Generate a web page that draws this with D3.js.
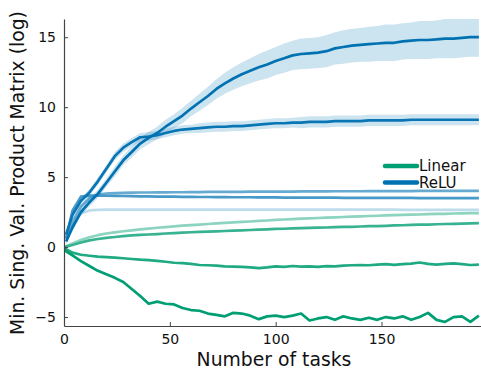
<!DOCTYPE html>
<html>
<head>
<meta charset="utf-8">
<script src="https://cdn.jsdelivr.net/npm/d3@7"></script>
<style>
  body { margin: 0; background: #fff; }
  text { font-family: "DejaVu Sans", sans-serif; fill: #111; }
</style>
</head>
<body>
<svg id="chart" width="481" height="372"></svg>
<script>
// number of tasks seen (x)
const tasks = [1, 4, 8, 12, 16, 20, 24, 28, 32, 36,
               40, 44, 48, 52, 56, 60, 64, 68, 72, 76,
               80, 84, 88, 92, 96, 100, 104, 108, 112, 116,
               120, 124, 128, 132, 136, 140, 144, 148, 152, 156,
               160, 164, 168, 172, 176, 180, 184, 188, 192, 196];

// ReLU runs (darkest first)
const reluA = [0.4, 1.4, 2.5, 3.2, 3.8, 4.6, 5.4, 6.2, 6.8, 7.4,
               7.8, 8.15, 8.6, 9.0, 9.4, 9.9, 10.35, 10.8, 11.3, 11.7,
               12.05, 12.35, 12.6, 12.85, 13.05, 13.3, 13.5, 13.7, 13.8, 13.85,
               13.9, 14.0, 14.2, 14.3, 14.4, 14.45, 14.5, 14.55, 14.6, 14.6,
               14.7, 14.75, 14.8, 14.8, 14.85, 14.9, 14.9, 14.95, 15.0, 15.0];
const reluAsd = [0.25, 0.25, 0.25, 0.3, 0.3, 0.3, 0.35, 0.35, 0.4, 0.4,
                 0.45, 0.45, 0.5, 0.5, 0.55, 0.55, 0.6, 0.65, 0.7, 0.75,
                 0.8, 0.85, 0.9, 0.95, 1.0, 1.0, 1.05, 1.05, 1.1, 1.1,
                 1.1, 1.15, 1.15, 1.2, 1.2, 1.2, 1.25, 1.25, 1.3, 1.3,
                 1.3, 1.3, 1.35, 1.35, 1.35, 1.4, 1.4, 1.4, 1.4, 1.4];
const reluB = [0.9, 2.3, 3.3, 3.9, 4.7, 5.6, 6.5, 7.1, 7.5, 7.85,
               7.9, 8.0, 8.15, 8.3, 8.4, 8.45, 8.5, 8.55, 8.6, 8.6,
               8.65, 8.65, 8.7, 8.75, 8.8, 8.85, 8.85, 8.9, 8.9, 8.95,
               8.95, 8.95, 9.0, 9.0, 9.0, 9.0, 9.05, 9.05, 9.05, 9.05,
               9.05, 9.1, 9.1, 9.1, 9.1, 9.1, 9.1, 9.1, 9.1, 9.1];
const reluBsd = [0.2, 0.2, 0.2, 0.25, 0.25, 0.25, 0.3, 0.3, 0.3, 0.3,
                 0.3, 0.3, 0.3, 0.3, 0.3, 0.3, 0.35, 0.35, 0.35, 0.35,
                 0.35, 0.35, 0.35, 0.35, 0.35, 0.35, 0.35, 0.35, 0.4, 0.4,
                 0.4, 0.4, 0.4, 0.4, 0.4, 0.4, 0.4, 0.4, 0.4, 0.4,
                 0.4, 0.4, 0.4, 0.4, 0.4, 0.4, 0.4, 0.4, 0.4, 0.4];
const reluC = [0.6, 2.6, 3.6, 3.68, 3.68, 3.67, 3.66, 3.65, 3.64, 3.63,
               3.62, 3.61, 3.6, 3.6, 3.59, 3.59, 3.58, 3.58, 3.57, 3.57,
               3.56, 3.56, 3.56, 3.55, 3.55, 3.55, 3.54, 3.54, 3.54, 3.53,
               3.53, 3.53, 3.53, 3.52, 3.52, 3.52, 3.52, 3.51, 3.51, 3.51,
               3.51, 3.51, 3.5, 3.5, 3.5, 3.5, 3.5, 3.5, 3.5, 3.5];
const reluD = [0.7, 1.8, 2.9, 3.5, 3.75, 3.83, 3.86, 3.88, 3.89, 3.9,
               3.9, 3.91, 3.91, 3.92, 3.92, 3.93, 3.93, 3.94, 3.94, 3.95,
               3.95, 3.95, 3.96, 3.96, 3.96, 3.97, 3.97, 3.97, 3.98, 3.98,
               3.98, 3.98, 3.99, 3.99, 3.99, 3.99, 4.0, 4.0, 4.0, 4.0,
               4.0, 4.0, 4.01, 4.01, 4.01, 4.01, 4.02, 4.02, 4.02, 4.02];
const reluE = [0.8, 1.6, 2.4, 2.62, 2.66, 2.67, 2.67, 2.68, 2.68, 2.68,
               2.68, 2.68, 2.68, 2.68, 2.68, 2.68, 2.68, 2.68, 2.68, 2.68,
               2.67, 2.67, 2.67, 2.67, 2.67, 2.67, 2.67, 2.67, 2.67, 2.67,
               2.67, 2.67, 2.67, 2.67, 2.67, 2.67, 2.67, 2.67, 2.67, 2.67,
               2.66, 2.66, 2.66, 2.66, 2.66, 2.66, 2.66, 2.66, 2.66, 2.66];

// Linear runs
const linA = [-0.3, -0.6, -1.0, -1.35, -1.7, -1.95, -2.2, -2.5, -3.0, -3.5,
              -4.05, -3.9, -4.05, -4.1, -4.35, -4.5, -4.55, -4.75, -4.85, -4.95,
              -4.7, -4.75, -4.9, -5.15, -4.95, -4.9, -5.0, -4.9, -4.75, -5.25,
              -5.1, -5.0, -5.2, -4.95, -5.1, -5.2, -5.05, -5.2, -5.0, -5.1,
              -4.95, -5.2, -5.0, -4.7, -5.2, -5.35, -5.0, -4.95, -5.35, -4.9];
const linB = [-0.15, -0.4, -0.55, -0.62, -0.68, -0.72, -0.76, -0.8, -0.85, -0.9,
              -0.93, -0.98, -1.05, -1.12, -1.15, -1.2, -1.28, -1.3, -1.33, -1.38,
              -1.4, -1.42, -1.45, -1.5, -1.45, -1.38, -1.42, -1.35, -1.4, -1.38,
              -1.42, -1.36, -1.38, -1.33, -1.3, -1.28, -1.3, -1.25, -1.22, -1.27,
              -1.22, -1.18, -1.1, -1.2, -1.25, -1.2, -1.17, -1.22, -1.28, -1.25];
const linC = [0.03, 0.15, 0.33, 0.48, 0.58, 0.66, 0.72, 0.78, 0.83, 0.87,
              0.9, 0.93, 0.97, 1.0, 1.03, 1.06, 1.08, 1.1, 1.12, 1.15,
              1.17, 1.2, 1.22, 1.25, 1.27, 1.3, 1.31, 1.33, 1.35, 1.37,
              1.39, 1.4, 1.42, 1.44, 1.45, 1.47, 1.5, 1.5, 1.52, 1.55,
              1.56, 1.58, 1.6, 1.6, 1.63, 1.65, 1.66, 1.68, 1.7, 1.71];
const linD = [0.05, 0.25, 0.5, 0.7, 0.85, 0.97, 1.05, 1.13, 1.2, 1.26,
              1.32, 1.38, 1.43, 1.48, 1.53, 1.57, 1.61, 1.65, 1.69, 1.73,
              1.76, 1.8, 1.83, 1.87, 1.9, 1.94, 1.97, 2.0, 2.03, 2.05,
              2.08, 2.1, 2.13, 2.15, 2.17, 2.2, 2.22, 2.24, 2.26, 2.28,
              2.3, 2.32, 2.33, 2.35, 2.37, 2.38, 2.4, 2.41, 2.42, 2.43];

const xTicks = [0, 50, 100, 150];
const yTicks = [-5, 0, 5, 10, 15];
const legendNames = ["Linear", "ReLU"];

const green = "#009E73";
const blue = "#0072B2";

// draw order: lightest first
const series = [
  {values: linD, base: green, shade: 0.45},
  {values: linC, base: green, shade: 0.78},
  {values: linB, base: green, shade: 0.88},
  {values: linA, base: green, shade: 1},
  {values: reluE, base: blue, shade: 0.25},
  {values: reluD, base: blue, shade: 0.6},
  {values: reluC, base: blue, shade: 0.72},
  {values: reluB, base: blue, shade: 0.97, sd: reluBsd},
  {values: reluA, base: blue, shade: 1, sd: reluAsd},
];

const svg = d3.select("#chart");
const margin = {left: 64, top: 19, right: 0, bottom: 46};
const W = 481, H = 372;

const x = d3.scaleLinear().domain([0, 197]).range([margin.left, W - margin.right]);
const y = d3.scaleLinear().domain([-5.64, 16.3]).range([H - margin.bottom, margin.top]);

svg.append("clipPath").attr("id", "plotclip")
  .append("rect")
  .attr("x", margin.left).attr("y", margin.top)
  .attr("width", W - margin.left - margin.right)
  .attr("height", H - margin.top - margin.bottom);

const plot = svg.append("g").attr("clip-path", "url(#plotclip)");

const line = d3.line()
  .x((d, i) => x(tasks[i]))
  .y(d => y(d));

series.forEach(s => {
  const col = d3.interpolateRgb("#fff", s.base)(s.shade);
  if (s.sd) {
    const area = d3.area()
      .x((d, i) => x(tasks[i]))
      .y0((d, i) => y(d - s.sd[i]))
      .y1((d, i) => y(d + s.sd[i]));
    plot.append("path")
      .attr("d", area(s.values))
      .style("fill", s.base)
      .style("fill-opacity", 0.2);
  }
  // green runs start from the origin
  const vals = s.base === green ? [0].concat(s.values) : s.values;
  const lf = s.base === green
    ? d3.line().x((d, i) => x(i === 0 ? 0 : tasks[i - 1])).y(d => y(d))
    : line;
  plot.append("path")
    .attr("d", lf(vals))
    .style("fill", "none")
    .style("stroke", col)
    .style("stroke-width", 2.7)
    .style("stroke-linejoin", "round");
});

// axes
const axisCol = "#444";
const xAxis = svg.append("g")
  .attr("transform", `translate(0,${H - margin.bottom})`)
  .call(d3.axisBottom(x).tickValues(xTicks).tickSizeInner(-4).tickSizeOuter(0).tickPadding(8));
const yAxis = svg.append("g")
  .attr("transform", `translate(${margin.left},0)`)
  .call(d3.axisLeft(y).tickValues(yTicks).tickSizeInner(-4).tickSizeOuter(0).tickPadding(8));

[xAxis, yAxis].forEach(a => {
  a.select(".domain").style("stroke", axisCol).style("stroke-width", 1.2);
  a.selectAll(".tick line").style("stroke", axisCol);
  a.selectAll(".tick text").style("font-size", "14px").style("fill", "#111")
    .style("font-family", '"DejaVu Sans", sans-serif');
});

svg.append("text")
  .attr("x", 274)
  .attr("y", 366)
  .attr("text-anchor", "middle")
  .style("font-size", "18.8px")
  .text("Number of tasks");

svg.append("text")
  .attr("transform", "translate(24,173) rotate(-90)")
  .attr("text-anchor", "middle")
  .style("font-size", "18.8px")
  .text("Min. Sing. Val. Product Matrix (log)");

// legend
const legend = svg.append("g").attr("transform", "translate(385,166)");
legendNames.forEach((name, i) => {
  const g = legend.append("g").attr("transform", `translate(0,${i * 16.6})`);
  g.append("line")
    .attr("x1", 0).attr("x2", 32)
    .style("stroke", i === 0 ? green : blue)
    .style("stroke-width", 4.5)
    .style("stroke-linecap", "round");
  g.append("text")
    .attr("x", 34)
    .attr("dy", "0.35em")
    .style("font-size", "15px")
    .text(name);
});
</script>
</body>
</html>
